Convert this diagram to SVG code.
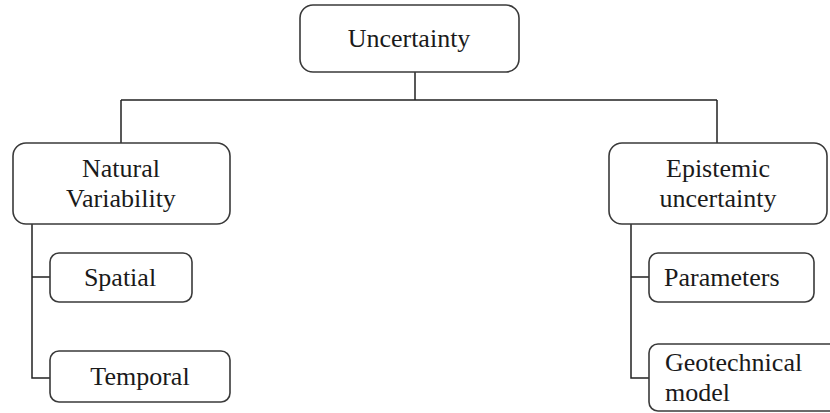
<svg xmlns="http://www.w3.org/2000/svg" width="830" height="413" viewBox="0 0 830 413">
  <style>
    .box { fill: #ffffff; stroke: #3a3a3a; stroke-width: 1.6; }
    .lbl { font-family: "Liberation Serif", "Times New Roman", serif; font-size: 26px; fill: #1a1a1a; }
    .mid { text-anchor: middle; }
    .wire { fill: none; stroke: #222222; stroke-width: 1.5; }
  </style>
  <rect width="830" height="413" fill="#ffffff"/>

  <g id="connectors">
    <path class="wire" d="M415 72 V100 M121 100 H717 M121 100 V143 M717 100 V143"/>
    <path class="wire" d="M32 224 V378 H50 M32 277 H50"/>
    <path class="wire" d="M631 224 V378 H649 M631 277 H649"/>
  </g>

  <g id="uncertainty">
    <rect class="box" x="300" y="5" width="219" height="67" rx="13"/>
    <text class="lbl mid" x="409" y="47">Uncertainty</text>
  </g>

  <g id="natural-variability">
    <rect class="box" x="13" y="143" width="217" height="81" rx="13"/>
    <text class="lbl mid" x="121" y="177">Natural</text>
    <text class="lbl mid" x="121" y="207">Variability</text>
  </g>

  <g id="spatial">
    <rect class="box" x="50" y="253" width="142" height="49" rx="9"/>
    <text class="lbl mid" x="120" y="286">Spatial</text>
  </g>

  <g id="temporal">
    <rect class="box" x="50" y="351" width="180" height="51" rx="9"/>
    <text class="lbl mid" x="140" y="385">Temporal</text>
  </g>

  <g id="epistemic-uncertainty">
    <rect class="box" x="609" y="143" width="218" height="81" rx="13"/>
    <text class="lbl mid" x="718" y="177">Epistemic</text>
    <text class="lbl mid" x="718" y="207">uncertainty</text>
  </g>

  <g id="parameters">
    <rect class="box" x="649" y="253" width="165" height="49" rx="9"/>
    <text class="lbl" x="664" y="286">Parameters</text>
  </g>

  <g id="geotechnical-model">
    <rect class="box" x="649" y="344" width="200" height="67" rx="9"/>
    <text class="lbl" x="665" y="371">Geotechnical</text>
    <text class="lbl" x="665" y="401">model</text>
  </g>
</svg>
